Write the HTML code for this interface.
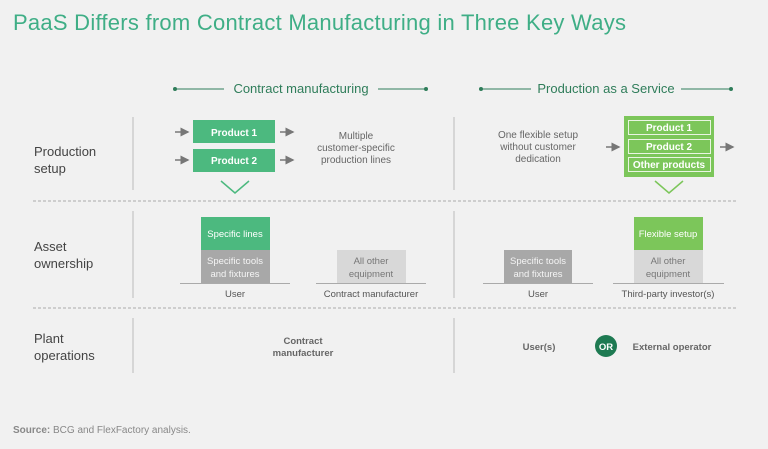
<!DOCTYPE html>
<html><head><meta charset="utf-8"><style>
html,body{margin:0;padding:0;background:#f1f1f1;}
svg{display:block;font-family:"Liberation Sans",sans-serif;}
</style></head><body>
<svg width="768" height="449" viewBox="0 0 768 449" xmlns="http://www.w3.org/2000/svg">
<rect width="768" height="449" fill="#f1f1f1"/>
<text x="13" y="30" font-size="22" letter-spacing="0.25" fill="#3fae86">PaaS Differs from Contract Manufacturing in Three Key Ways</text>

<!-- headers -->
<g stroke="#2f7d5a" stroke-width="1" fill="#2f7d5a">
<line x1="175" y1="89" x2="224" y2="89"/><line x1="378" y1="89" x2="426" y2="89"/>
<circle cx="175" cy="89" r="2" stroke="none"/><circle cx="426" cy="89" r="2" stroke="none"/>
<line x1="481" y1="89" x2="531" y2="89"/><line x1="681" y1="89" x2="731" y2="89"/>
<circle cx="481" cy="89" r="2" stroke="none"/><circle cx="731" cy="89" r="2" stroke="none"/>
</g>
<text x="301" y="93" font-size="13" fill="#2f7d5a" text-anchor="middle">Contract manufacturing</text>
<text x="606" y="93" font-size="13" fill="#2f7d5a" text-anchor="middle">Production as a Service</text>

<!-- left labels -->
<g font-size="13" fill="#444">
<text x="34" y="156">Production</text><text x="34" y="173">setup</text>
<text x="34" y="251">Asset</text><text x="34" y="268">ownership</text>
<text x="34" y="343">Plant</text><text x="34" y="360">operations</text>
</g>

<!-- dividers -->
<g stroke="#bbb" stroke-width="1">
<line x1="133" y1="117" x2="133" y2="190"/><line x1="133" y1="211" x2="133" y2="298"/><line x1="133" y1="318" x2="133" y2="373"/>
<line x1="454" y1="117" x2="454" y2="190"/><line x1="454" y1="211" x2="454" y2="298"/><line x1="454" y1="318" x2="454" y2="373"/>
</g>
<g stroke="#aaa" stroke-width="1" stroke-dasharray="3,2">
<line x1="33" y1="201" x2="738" y2="201"/><line x1="33" y1="308" x2="738" y2="308"/>
</g>

<!-- arrows -->
<defs><marker id="a" markerWidth="6" markerHeight="6" refX="5" refY="3" orient="auto"><path d="M0,0L6,3L0,6z" fill="#777"/></marker></defs>
<g stroke="#777" stroke-width="1.5" marker-end="url(#a)">
<line x1="175" y1="132" x2="188" y2="132"/><line x1="175" y1="160" x2="188" y2="160"/>
<line x1="280" y1="132" x2="293" y2="132"/><line x1="280" y1="160" x2="293" y2="160"/>
<line x1="606" y1="147" x2="619" y2="147"/><line x1="720" y1="147" x2="733" y2="147"/>
</g>

<!-- CM products -->
<rect x="193" y="120" width="82" height="23" fill="#4cb97f"/>
<rect x="193" y="149" width="82" height="23" fill="#4cb97f"/>
<text x="234" y="136" font-size="10" font-weight="bold" fill="#fff" text-anchor="middle">Product 1</text>
<text x="234" y="164" font-size="10" font-weight="bold" fill="#fff" text-anchor="middle">Product 2</text>
<g font-size="10" fill="#666" text-anchor="middle">
<text x="356" y="139">Multiple</text><text x="356" y="151">customer-specific</text><text x="356" y="163">production lines</text>
<text x="538" y="138">One flexible setup</text><text x="538" y="150">without customer</text><text x="538" y="162">dedication</text>
</g>
<polyline points="221,181 235,193 249,181" fill="none" stroke="#4cb97f" stroke-width="1.5"/>

<!-- PaaS -->
<rect x="624" y="116" width="90" height="61" fill="#7cc65a"/>
<g fill="none" stroke="#e9f5e2" stroke-width="1">
<rect x="628.5" y="120.5" width="82" height="14"/><rect x="628.5" y="139.5" width="82" height="14"/><rect x="628.5" y="157.5" width="82" height="14"/>
</g>
<g font-size="10" font-weight="bold" fill="#fff" text-anchor="middle">
<text x="669" y="131">Product 1</text><text x="669" y="150">Product 2</text><text x="669" y="168">Other products</text>
</g>
<polyline points="655,181 669,193 683,181" fill="none" stroke="#7cc65a" stroke-width="1.5"/>

<!-- Asset ownership -->
<rect x="201" y="217" width="69" height="33" fill="#4cb97f"/>
<rect x="201" y="250" width="69" height="33" fill="#a8a8a8"/>
<rect x="337" y="250" width="69" height="33" fill="#d8d8d8"/>
<rect x="504" y="250" width="68" height="33" fill="#a8a8a8"/>
<rect x="634" y="217" width="69" height="33" fill="#7cc65a"/>
<rect x="634" y="250" width="69" height="33" fill="#d8d8d8"/>
<g stroke="#aaa" stroke-width="1">
<line x1="180" y1="283.5" x2="290" y2="283.5"/><line x1="316" y1="283.5" x2="426" y2="283.5"/>
<line x1="483" y1="283.5" x2="593" y2="283.5"/><line x1="613" y1="283.5" x2="724" y2="283.5"/>
</g>
<g font-size="9.5" text-anchor="middle">
<text x="235" y="237" fill="#fff">Specific lines</text>
<text x="235" y="264" fill="#f4f4f4">Specific tools</text><text x="235" y="277" fill="#f4f4f4">and fixtures</text>
<text x="371" y="264" fill="#777">All other</text><text x="371" y="277" fill="#777">equipment</text>
<text x="538" y="264" fill="#f4f4f4">Specific tools</text><text x="538" y="277" fill="#f4f4f4">and fixtures</text>
<text x="668" y="237" fill="#fff">Flexible setup</text>
<text x="668" y="264" fill="#777">All other</text><text x="668" y="277" fill="#777">equipment</text>
</g>
<g font-size="9.5" fill="#555" text-anchor="middle">
<text x="235" y="297">User</text><text x="371" y="297">Contract manufacturer</text>
<text x="538" y="297">User</text><text x="668" y="297">Third-party investor(s)</text>
</g>

<!-- Plant operations -->
<g font-size="9.5" font-weight="bold" fill="#666" text-anchor="middle">
<text x="303" y="344">Contract</text><text x="303" y="356">manufacturer</text>
<text x="539" y="350">User(s)</text>
<text x="672" y="350">External operator</text>
</g>
<circle cx="606" cy="346" r="11" fill="#1e7a52"/>
<text x="606" y="350" font-size="9.5" font-weight="bold" fill="#fff" text-anchor="middle">OR</text>

<text x="13" y="433" font-size="10" fill="#888"><tspan font-weight="bold">Source:</tspan> BCG and FlexFactory analysis.</text>
</svg>
</body></html>
